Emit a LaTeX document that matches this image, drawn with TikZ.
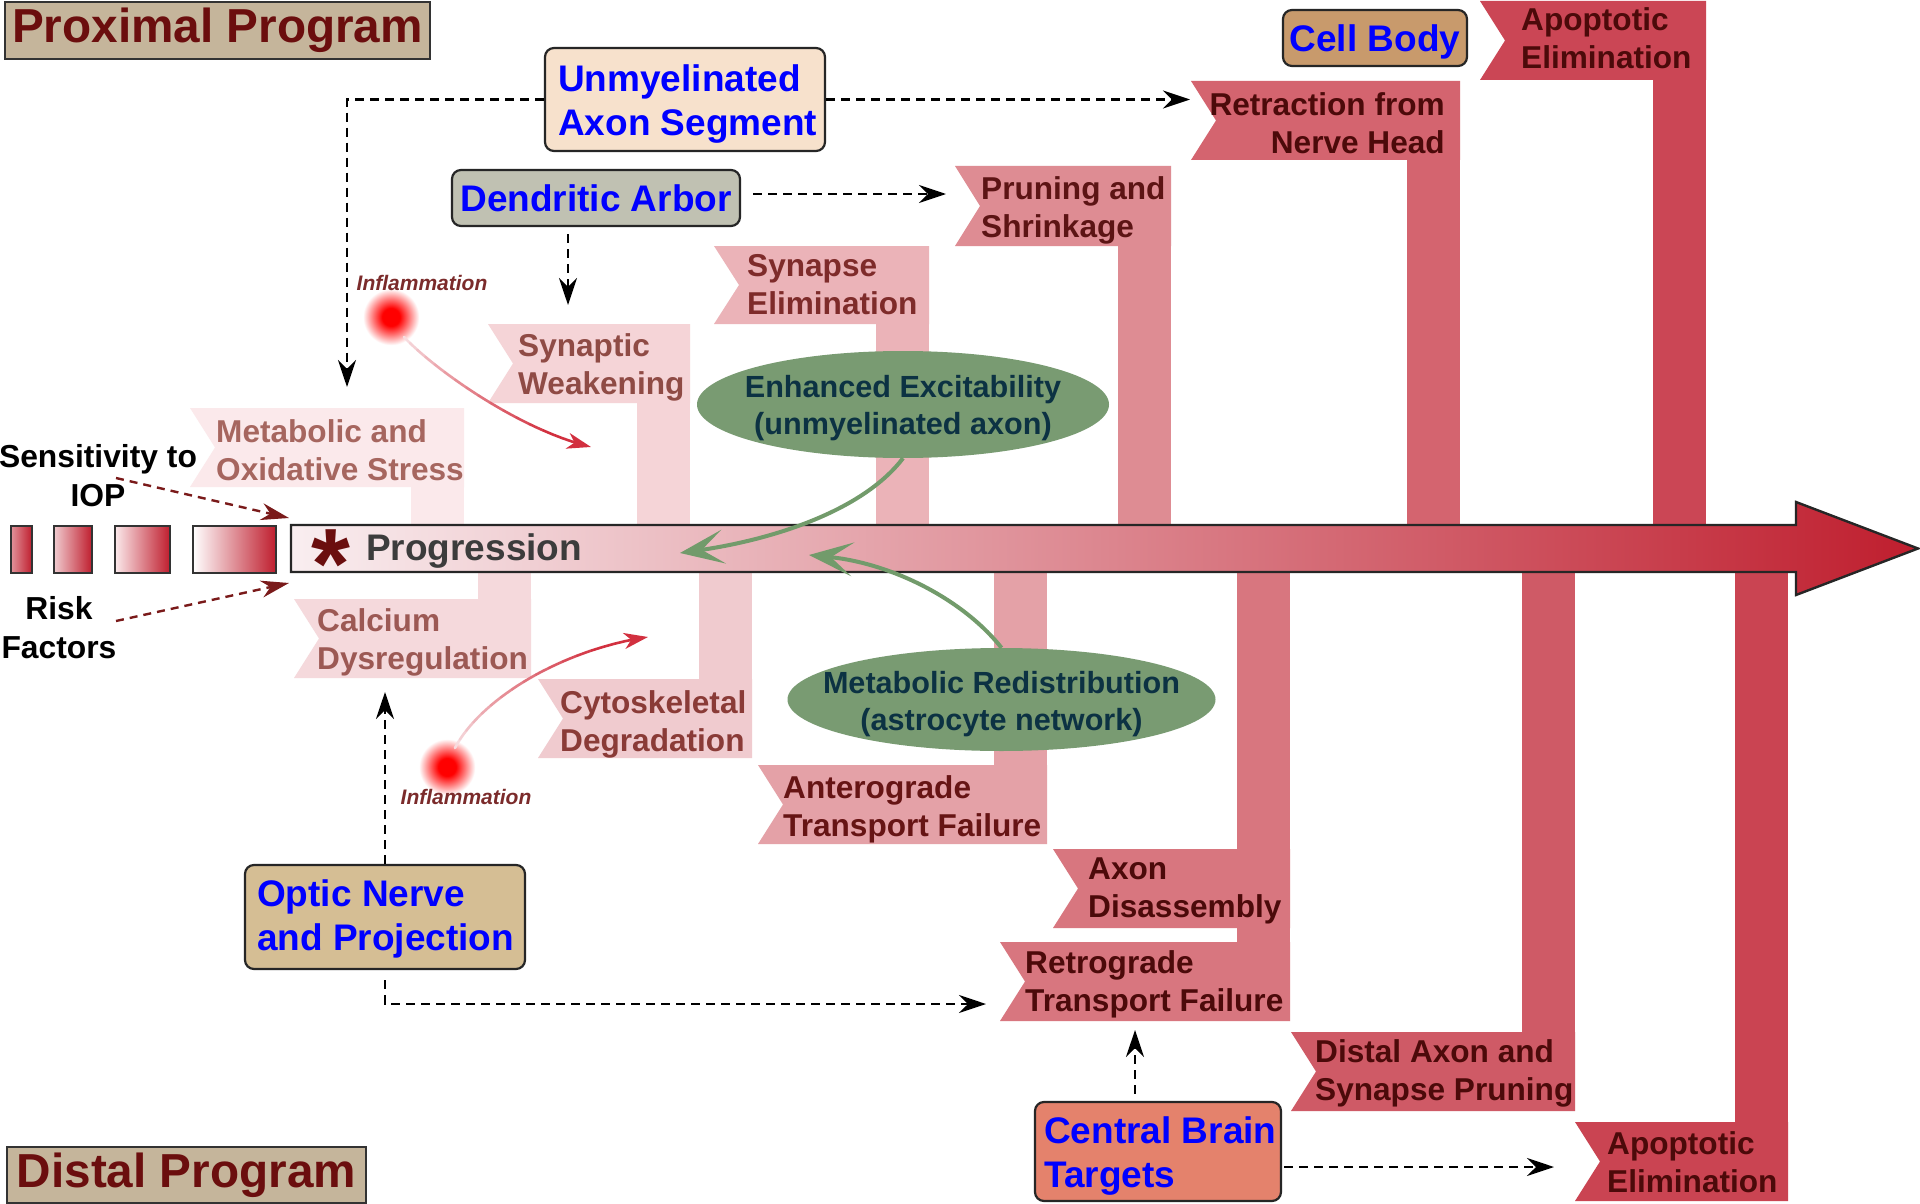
\documentclass[tikz,border=0pt]{standalone}
\usepackage{fontspec}
\setmainfont{Liberation Sans}
\usetikzlibrary{arrows.meta,shapes.geometric,calc}

\definecolor{progfill}{HTML}{C5B59B}
\definecolor{progtxt}{HTML}{6B0E0E}
\definecolor{unmyfill}{HTML}{F7E1CC}
\definecolor{dendfill}{HTML}{C0C1B2}
\definecolor{cellfill}{HTML}{C89A6C}
\definecolor{opticfill}{HTML}{D5BE94}
\definecolor{centralfill}{HTML}{E4826C}
\definecolor{ovalgreen}{HTML}{799B72}
\definecolor{ovaltxt}{HTML}{0C3243}
\definecolor{arrgreen}{HTML}{729B6B}
\definecolor{riskred}{HTML}{7A1A1A}
\definecolor{inflred}{HTML}{D2303F}
\definecolor{inflpale}{HTML}{F7DCDF}
\definecolor{infltxt}{HTML}{7B2B2B}
\definecolor{progtext}{HTML}{3C3C3C}
\definecolor{arrl}{HTML}{F9EEF0}
\definecolor{arrm}{HTML}{E29AA1}
\definecolor{arrr}{HTML}{BF1E2E}
\definecolor{b1}{HTML}{FBE9EB}
\definecolor{b2}{HTML}{F5D9DC}
\definecolor{b3}{HTML}{F5D4D7}
\definecolor{b4}{HTML}{F0CBCF}
\definecolor{b5}{HTML}{EBB3B8}
\definecolor{b6}{HTML}{E4A1A7}
\definecolor{b7}{HTML}{DE8C93}
\definecolor{b8}{HTML}{D8767F}
\definecolor{b9}{HTML}{D4646F}
\definecolor{b10}{HTML}{CF5A66}
\definecolor{b11}{HTML}{CB4655}
\definecolor{b12}{HTML}{CA4452}
\definecolor{t1}{HTML}{A6665F}
\definecolor{t2}{HTML}{9C5954}
\definecolor{t3}{HTML}{8F4B45}
\definecolor{t4}{HTML}{8A3B37}
\definecolor{t5}{HTML}{7E2B2A}
\definecolor{t6}{HTML}{661414}
\definecolor{t7}{HTML}{5C1414}
\definecolor{t8}{HTML}{4C0A0A}

\newcommand\fsz[2]{\fontsize{#1}{#2}\selectfont\bfseries}
\newcommand\flagshape[5]{\fill[#5] (#1,#3) -- (#2,#3) -- (#2,#4) -- (#1,#4) -- ({#1+25},{(#3+#4)/2}) -- cycle;}
\newcommand\bez[4]{((1-\x)^3*(#1)+3*(1-\x)^2*\x*(#2)+3*(1-\x)*\x^2*(#3)+\x^3*(#4))}
\pgfdeclareradialshading{glowshade}{\pgfpoint{0bp}{0bp}}{color(0bp)=(red); color(5bp)=(red); color(10bp)=(red!55!white); color(16bp)=(white); color(50bp)=(white)}

\begin{document}
\begin{tikzpicture}[x=1pt,y=-1pt,
  bantxt/.style={inner sep=0pt, anchor=north west, align=flush left, font={\fsz{31.6}{38}}},
  bluebox/.style={draw=black!85, line width=2.2pt, rounded corners=9pt, inner sep=0pt},
  boxtxt/.style={inner sep=0pt, font={\fsz{37}{44}}, text=blue, align=flush left},
  progbox/.style={draw=black!80, line width=2pt, fill=progfill, inner sep=0pt, font={\fsz{47.7}{52}}, text=progtxt},
  dashcon/.style={draw=black, line width=2.4pt, dash pattern=on 9pt off 6pt, -{Stealth[length=27pt,width=18pt,inset=9pt]}},
  reddash/.style={draw=riskred, line width=2.4pt, dash pattern=on 8pt off 6pt, -{Stealth[length=28pt,width=17pt,inset=9pt]}},
  greenarr/.style={draw=arrgreen, line width=4pt, -{Stealth[length=44pt,width=34pt,inset=22pt]}},
  oval/.style={ellipse, fill=ovalgreen, inner sep=0pt},
  ovaltext/.style={inner sep=0pt, font={\fsz{30.6}{37}}, text=ovaltxt, align=center},
  lbl/.style={inner sep=0pt, font={\fsz{31.8}{39}}, align=center},
  infl/.style={inner sep=0pt, font={\fontsize{21}{24}\selectfont\bfseries\itshape}, text=infltxt},
  sq/.style={draw=black!80, line width=2pt, right color=arrr},
]
\useasboundingbox (0,0) rectangle (1920,1204);
\fill[white] (0,0) rectangle (1920,1204);

% inflammation glows
\shade[shading=glowshade] (391,317) circle (44);
\shade[shading=glowshade] (447,767) circle (44);

% ---------- ribbons and bars ----------
\flagshape{190}{464}{408}{487}{b1}
\fill[b1] (411,486) rectangle (464,550);
\flagshape{294}{531}{599}{678}{b2}
\fill[b2] (478,548) rectangle (531,600);
\flagshape{488}{690}{324}{403}{b3}
\fill[b3] (637,402) rectangle (690,550);
\flagshape{538}{752}{679}{758}{b4}
\fill[b4] (699,548) rectangle (752,680);
\flagshape{714}{929}{246}{324}{b5}
\fill[b5] (876,323) rectangle (929,550);
\flagshape{758}{1047}{765}{844}{b6}
\fill[b6] (994,548) rectangle (1047,766);
\flagshape{955}{1171}{166}{246}{b7}
\fill[b7] (1118,245) rectangle (1171,550);
\flagshape{1053}{1290}{849}{928}{b8}
\flagshape{1000}{1290}{942}{1021}{b8}
\fill[b8] (1237,548) rectangle (1290,943);
\flagshape{1191}{1460}{81}{160}{b9}
\fill[b9] (1407,159) rectangle (1460,550);
\flagshape{1291}{1575}{1032}{1111}{b10}
\fill[b10] (1522,548) rectangle (1575,1033);
\flagshape{1480}{1706}{1}{80}{b11}
\fill[b11] (1653,79) rectangle (1706,550);
\flagshape{1575}{1788}{1122}{1201}{b12}
\fill[b12] (1735,548) rectangle (1788,1123);

\node[bantxt, text=t1] (metab) at (216,419) {Metabolic and\\Oxidative Stress};
\node[bantxt, text=t2] (calcium) at (317,608) {Calcium\\Dysregulation};
\node[bantxt, text=t3] (synw) at (518,333) {Synaptic\\Weakening};
\node[bantxt, text=t4] (cyto) at (560,690) {Cytoskeletal\\Degradation};
\node[bantxt, text=t5] (syne) at (747,254) {Synapse\\Elimination};
\node[bantxt, text=t6] (antero) at (783,775) {Anterograde\\Transport Failure};
\node[bantxt, text=t7] (prune) at (981,176) {Pruning and\\Shrinkage};
\node[bantxt, text=t8] (axdis) at (1088,858) {Axon\\Disassembly};
\node[bantxt, text=t8] (retro) at (1025,950) {Retrograde\\Transport Failure};
\node[bantxt, text=t8, anchor=north east, align=flush right] (retract) at (1445,92) {Retraction from\\Nerve Head};
\node[bantxt, text=t8] (distal) at (1315,1039) {Distal Axon and\\Synapse Pruning};
\node[bantxt, text=t8] (apotop) at (1521,7) {Apoptotic\\Elimination};
\node[bantxt, text=t8] (apobot) at (1607,1131) {Apoptotic\\Elimination};

% ---------- main progression arrow ----------
\draw[line width=2.4pt, draw=black!85, left color=arrl, middle color=arrm, right color=arrr]
  (291,525) -- (1796,525) -- (1796,502) -- (1918,548.5) -- (1796,595) -- (1796,572) -- (291,572) -- cycle;

% risk squares
\draw[sq, left color=b9!70!white] (11,526) rectangle (32,573);
\draw[sq, left color=b4] (54,526) rectangle (92,573);
\draw[sq, left color=b1] (115,526) rectangle (170,573);
\draw[sq, left color=white] (193,526) rectangle (276,573);

\node[inner sep=0pt, text=progtxt, font={\fontsize{100}{100}\selectfont\bfseries}, anchor=base] (ast) at (331,598) {*};
\node[anchor=base west, inner sep=0pt, font={\fsz{37}{40}}, text=progtext] (prog) at (366,560) {Progression};

% ---------- side labels ----------
\node[lbl] (sens) at (98,476) {Sensitivity to\\IOP};
\node[lbl] (risk) at (59,628) {Risk\\Factors};
\coordinate (s1a) at (116,478);
\coordinate (s1b) at (289,518);
\coordinate (s2a) at (116,621);
\coordinate (s2b) at (289,583);
\draw[reddash] (s1a) -- (s1b);
\draw[reddash] (s2a) -- (s2b);

% ---------- ellipses ----------
\node[oval, minimum width=412pt, minimum height=107pt] (ee) at (903,404.5) {};
\node[ovaltext] (eetxt) at (903,408.5) {Enhanced Excitability\\(unmyelinated axon)};
\node[oval, minimum width=428pt, minimum height=103pt] (mr) at (1001.5,699.5) {};
\node[ovaltext] (mrtxt) at (1001.5,704.5) {Metabolic Redistribution\\(astrocyte network)};
\coordinate (g1) at (680,553);
\coordinate (g2) at (809,555);
\draw[greenarr] (ee.south) .. controls (862,512) and (770,540) .. (g1);
\draw[greenarr] (mr.north) .. controls (962,598) and (890,563) .. (g2);

% ---------- inflammation ----------
\node[infl] (infl1) at (422,283) {Inflammation};
\node[infl] (infl2) at (466,797) {Inflammation};
\foreach \i in {0,...,12}{
  \pgfmathsetmacro\ta{\i*0.06}
  \pgfmathsetmacro\tb{(\i+1)*0.06}
  \pgfmathtruncatemacro\pc{100*\i/13}
  \draw[line width=2.6pt, line cap=round, draw=inflred!\pc!inflpale]
    plot[domain=\ta:\tb, samples=3] ({\bez{404}{435}{520}{591}},{\bez{337}{370}{430}{447}});
  \draw[line width=2.6pt, line cap=round, draw=inflred!\pc!inflpale]
    plot[domain=\ta:\tb, samples=3] ({\bez{455}{480}{560}{648}},{\bez{748}{700}{650}{637}});
}
\draw[line width=2.6pt, draw=inflred, -{Stealth[length=24pt,width=16pt,inset=7pt]}]
  plot[domain=0.78:1, samples=6] ({\bez{404}{435}{520}{591}},{\bez{337}{370}{430}{447}});
\draw[line width=2.6pt, draw=inflred, -{Stealth[length=24pt,width=16pt,inset=7pt]}]
  plot[domain=0.78:1, samples=6] ({\bez{455}{480}{560}{648}},{\bez{748}{700}{650}{637}});

% ---------- program labels ----------
\node[progbox, minimum width=425pt, minimum height=57pt] (prox) at (217.5,30.5) {Proximal Program};
\node[progbox, minimum width=359pt, minimum height=56pt] (dist) at (186.5,1175) {Distal Program};

% ---------- anatomical boxes ----------
\node[bluebox, fill=unmyfill, minimum width=280pt, minimum height=103pt] (unmy) at (685,99.5) {};
\node[boxtxt, anchor=north west] (unmytxt) at (558,64) {Unmyelinated\\Axon Segment};
\node[bluebox, fill=dendfill, minimum width=288pt, minimum height=56pt] (dend) at (596,198) {};
\node[boxtxt, text depth=0pt] (dendtxt) at (596,198) {Dendritic Arbor};
\node[bluebox, fill=cellfill, minimum width=184pt, minimum height=56pt] (cell) at (1375,38) {};
\node[boxtxt, text depth=0pt] (celltxt) at (1375,38) {Cell Body};
\node[bluebox, fill=opticfill, minimum width=280pt, minimum height=104pt] (optic) at (385,917) {};
\node[boxtxt, anchor=north west] (optictxt) at (257,879) {Optic Nerve\\and Projection};
\node[bluebox, fill=centralfill, minimum width=246pt, minimum height=99pt] (cbt) at (1158,1151.5) {};
\node[boxtxt, anchor=north west] (cbttxt) at (1044,1116) {Central Brain\\Targets};

% ---------- dashed connectors ----------
\coordinate (unmyL) at (347,387);
\coordinate (unmyR) at (1190,99.5);
\coordinate (dendR) at (946,194);
\coordinate (dendD) at (568,305);
\coordinate (opticU) at (385,692);
\coordinate (opticR) at (986,1004);
\coordinate (cbU) at (1135,1030);
\coordinate (cbR) at (1554,1167);
\draw[dashcon] (unmy.west) -| (unmyL);
\draw[dashcon] (unmy.east) -- (unmyR);
\draw[dashcon] ($(dend.east |- dendR)+(12,0)$) -- (dendR);
\draw[dashcon] ($(dendD |- dend.south)+(0,7)$) -- (dendD);
\draw[dashcon] (optic.north) -- (opticU);
\draw[dashcon] ($(optic.south)+(0,10)$) |- (opticR);
\draw[dashcon] ($(cbU |- cbt.north)+(0,-7)$) -- (cbU);
\draw[dashcon] ($(cbt.east |- cbR)+(2,0)$) -- (cbR);
\end{tikzpicture}
\end{document}
